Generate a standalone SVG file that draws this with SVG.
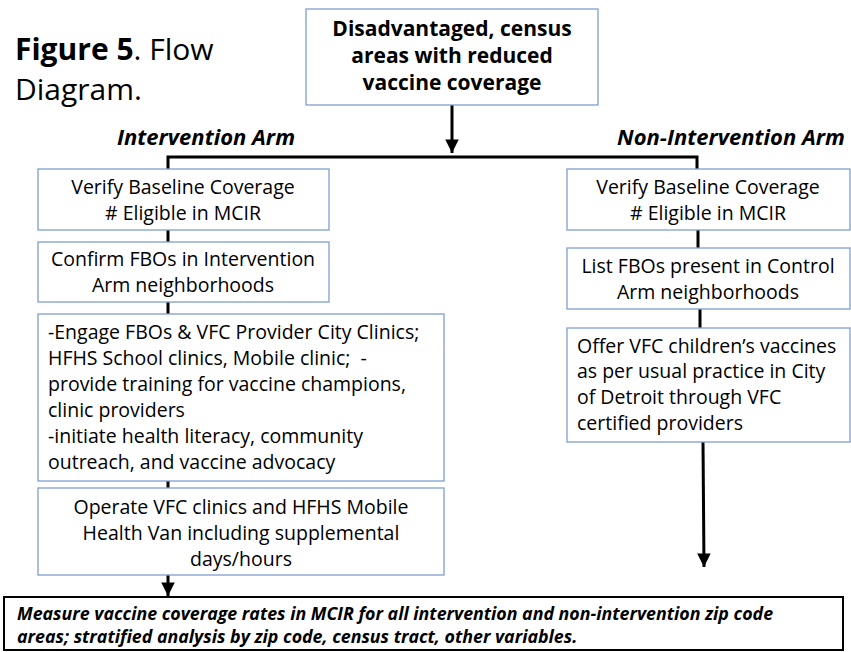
<svg xmlns="http://www.w3.org/2000/svg" width="851" height="652" viewBox="0 0 851 652">
<defs>
<style>
text{font-family:"Open Sans","Liberation Sans",sans-serif;fill:#000}
.b{fill:#fff;stroke:#7f9fd2;stroke-width:1.3}
.t{font-size:19.5px}
.c{text-anchor:middle}
.hb{font-size:21px;font-weight:bold}
.arm{font-size:22px;font-weight:bold;font-style:italic}
.ln{stroke:#000;stroke-width:3;fill:none}
.bot{font-size:17.8px;font-weight:bold;font-style:italic}
</style>
<marker id="ah" viewBox="0 0 10 10" refX="10" refY="5" markerWidth="4.8" markerHeight="4.5" markerUnits="strokeWidth" orient="auto"><path d="M0,0L10,5L0,10z" fill="#000"/></marker>
</defs>
<rect width="851" height="652" fill="#fff"/>
<g id="title">
<text x="15" y="60" font-size="30"><tspan font-weight="bold">Figure 5</tspan>. Flow</text>
<text x="15" y="100" font-size="30">Diagram.</text>
</g>
<g id="arm-labels">
<text class="arm c" x="206" y="145">Intervention Arm</text>
<text class="arm c" x="731" y="145">Non-Intervention Arm</text>
</g>
<g id="connectors">
<line class="ln" x1="452" y1="105" x2="452" y2="153" marker-end="url(#ah)"/>
<polyline class="ln" points="168,169 168,157 697,157 697,169"/>
<line class="ln" x1="168" y1="230" x2="168" y2="242"/>
<line class="ln" x1="168" y1="302" x2="168" y2="314"/>
<line class="ln" x1="168" y1="481" x2="168" y2="488"/>
<line class="ln" x1="168" y1="575" x2="168" y2="596" marker-end="url(#ah)"/>
<line class="ln" x1="698" y1="230" x2="698" y2="248"/>
<line class="ln" x1="700" y1="309" x2="700" y2="328"/>
<line class="ln" x1="703" y1="442" x2="704" y2="567" marker-end="url(#ah)"/>
</g>
<g id="top">
<rect class="b" x="306" y="9" width="292" height="96"/>
<text class="hb c" x="452" y="36">Disadvantaged, census</text>
<text class="hb c" x="452" y="63">areas with reduced</text>
<text class="hb c" x="452" y="90">vaccine coverage</text>
</g>
<g id="l1">
<rect class="b" x="38" y="169" width="291" height="61"/>
<text class="t c" x="183" y="194">Verify Baseline Coverage</text>
<text class="t c" x="183" y="220"># Eligible in MCIR</text>
</g>
<g id="l2">
<rect class="b" x="38" y="242" width="291" height="60"/>
<text class="t c" x="183" y="266">Confirm FBOs in Intervention</text>
<text class="t c" x="183" y="292">Arm neighborhoods</text>
</g>
<g id="l3">
<rect class="b" x="38" y="314" width="406" height="167"/>
<text class="t" x="48" y="339">-Engage FBOs &amp; VFC Provider City Clinics;</text>
<text class="t" x="48" y="365" xml:space="preserve">HFHS School clinics, Mobile clinic;  -</text>
<text class="t" x="48" y="391">provide training for vaccine champions,</text>
<text class="t" x="48" y="417">clinic providers</text>
<text class="t" x="48" y="443">-initiate health literacy, community</text>
<text class="t" x="48" y="469">outreach, and vaccine advocacy</text>
</g>
<g id="l4">
<rect class="b" x="38" y="488" width="406" height="87"/>
<text class="t c" x="241" y="514">Operate VFC clinics and HFHS Mobile</text>
<text class="t c" x="241" y="540">Health Van including supplemental</text>
<text class="t c" x="241" y="566">days/hours</text>
</g>
<g id="r1">
<rect class="b" x="567" y="169" width="283" height="61"/>
<text class="t c" x="708" y="194">Verify Baseline Coverage</text>
<text class="t c" x="708" y="220"># Eligible in MCIR</text>
</g>
<g id="r2">
<rect class="b" x="567" y="248" width="283" height="61"/>
<text class="t c" x="708" y="273">List FBOs present in Control</text>
<text class="t c" x="708" y="299">Arm neighborhoods</text>
</g>
<g id="r3">
<rect class="b" x="567" y="328" width="283" height="114"/>
<text class="t" x="577" y="353">Offer VFC children’s vaccines</text>
<text class="t" x="577" y="378">as per usual practice in City</text>
<text class="t" x="577" y="404">of Detroit through VFC</text>
<text class="t" x="577" y="430">certified providers</text>
</g>
<g id="bottom">
<rect x="4" y="597" width="839" height="53" fill="#fff" stroke="#000" stroke-width="2"/>
<text class="bot" x="17" y="620">Measure vaccine coverage rates in MCIR for all intervention and non-intervention zip code</text>
<text class="bot" x="17" y="643">areas; stratified analysis by zip code, census tract, other variables.</text>
</g>
</svg>
